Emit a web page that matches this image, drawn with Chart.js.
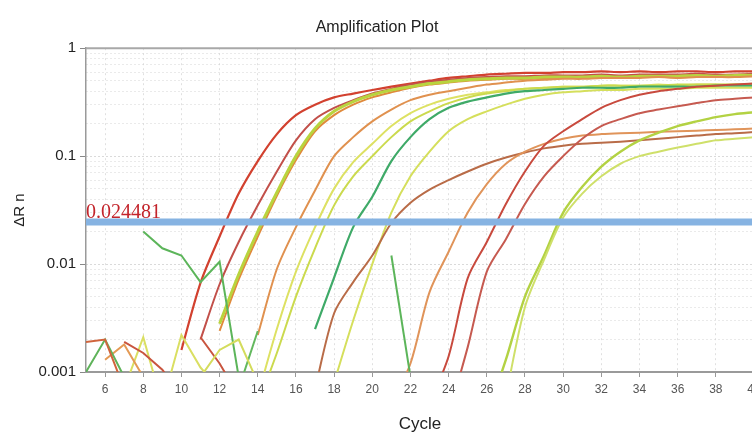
<!DOCTYPE html>
<html>
<head>
<meta charset="utf-8">
<title>Amplification Plot</title>
<script src="https://cdn.jsdelivr.net/npm/chart.js"></script>
<style>
  html, body { margin: 0; padding: 0; overflow: hidden; background: #fff; }
</style>
</head>
<body>
<canvas id="ampChart" width="774" height="440"></canvas>
<script>
// axis ranges and ticks
const xMin = 5, xMax = 40;
const xTicks = [6, 8, 10, 12, 14, 16, 18, 20, 22, 24, 26, 28, 30, 32, 34, 36, 38, 40];
const yMajor = [0.001, 0.01, 0.1, 1];
const threshold = 0.024481;

// delta Rn per cycle, each array starts at the cycle given in makeLine()
const red1     = [0.0016, 0.0067, 0.018, 0.045, 0.09, 0.16, 0.24, 0.3, 0.35, 0.38, 0.41, 0.44, 0.47, 0.5, 0.53, 0.55, 0.57, 0.58, 0.59, 0.59, 0.6, 0.6, 0.61, 0.6, 0.61, 0.6, 0.61, 0.61, 0.6, 0.61, 0.61];
const red2     = [0.002, 0.0065, 0.016, 0.035, 0.072, 0.14, 0.22, 0.28, 0.33, 0.38, 0.42, 0.46, 0.49, 0.51, 0.53, 0.54, 0.55, 0.55, 0.56, 0.56, 0.56, 0.57, 0.56, 0.57, 0.57, 0.57, 0.58, 0.57, 0.57, 0.58];
const thickYG  = [0.0028, 0.008, 0.02, 0.046, 0.1, 0.18, 0.26, 0.32, 0.37, 0.41, 0.44, 0.47, 0.49, 0.51, 0.52, 0.53, 0.53, 0.54, 0.54, 0.54, 0.55, 0.54, 0.55, 0.55, 0.55, 0.56, 0.55, 0.56, 0.56];
const thickOr  = [0.0024, 0.0072, 0.018, 0.043, 0.092, 0.17, 0.24, 0.3, 0.35, 0.39, 0.43, 0.46, 0.48, 0.5, 0.51, 0.52, 0.52, 0.53, 0.53, 0.53, 0.54, 0.53, 0.54, 0.54, 0.54, 0.55, 0.54, 0.55, 0.55];
const orange4  = [0.0022, 0.009, 0.022, 0.048, 0.1, 0.15, 0.21, 0.27, 0.33, 0.37, 0.4, 0.43, 0.46, 0.48, 0.5, 0.51, 0.52, 0.52, 0.53, 0.53, 0.53, 0.54, 0.53, 0.54, 0.54, 0.54, 0.55];
const yellow5  = [0.0006, 0.0025, 0.0085, 0.022, 0.05, 0.088, 0.13, 0.19, 0.25, 0.3, 0.34, 0.37, 0.39, 0.41, 0.42, 0.43, 0.44, 0.44, 0.45, 0.45, 0.45, 0.46, 0.45, 0.46, 0.46, 0.46, 0.47];
const yellow6  = [0.0005, 0.0015, 0.005, 0.014, 0.035, 0.065, 0.1, 0.15, 0.21, 0.26, 0.31, 0.35, 0.38, 0.4, 0.42, 0.43, 0.44, 0.44, 0.45, 0.45, 0.45, 0.45, 0.46, 0.46, 0.46, 0.46, 0.46];
const green7   = [0.0025, 0.0075, 0.022, 0.042, 0.09, 0.15, 0.22, 0.28, 0.32, 0.35, 0.38, 0.4, 0.41, 0.42, 0.43, 0.43, 0.43, 0.44, 0.44, 0.44, 0.44, 0.45, 0.45, 0.45];
const yellow8  = [0.0008, 0.003, 0.01, 0.03, 0.065, 0.11, 0.17, 0.22, 0.26, 0.3, 0.34, 0.37, 0.39, 0.4, 0.41, 0.41, 0.42, 0.42, 0.42, 0.43, 0.43, 0.43, 0.43];
const shallowA = [0.0007, 0.0035, 0.0068, 0.012, 0.024, 0.037, 0.049, 0.06, 0.072, 0.085, 0.097, 0.108, 0.118, 0.125, 0.13, 0.133, 0.136, 0.14, 0.145, 0.15, 0.155, 0.16, 0.163, 0.167];
const lateE    = [0.0005, 0.0012, 0.0055, 0.013, 0.03, 0.055, 0.085, 0.11, 0.13, 0.145, 0.155, 0.16, 0.163, 0.165, 0.168, 0.17, 0.172, 0.175, 0.177, 0.18];
const lateB    = [0.0005, 0.0014, 0.0074, 0.016, 0.036, 0.072, 0.125, 0.17, 0.22, 0.28, 0.33, 0.37, 0.4, 0.42, 0.44, 0.45, 0.46, 0.47];
const lateC    = [0.0004, 0.0017, 0.0085, 0.017, 0.036, 0.065, 0.1, 0.145, 0.19, 0.22, 0.25, 0.27, 0.29, 0.31, 0.33, 0.34, 0.35];
const lateD1   = [0.0004, 0.0013, 0.005, 0.012, 0.03, 0.052, 0.08, 0.11, 0.14, 0.165, 0.19, 0.21, 0.23, 0.245, 0.255];
const lateD2   = [0.0006, 0.004, 0.011, 0.027, 0.045, 0.065, 0.085, 0.1, 0.11, 0.12, 0.13, 0.14, 0.145, 0.15];

// background noise near the bottom
const noiseA = [0.0019, 0.002, 0.0007];
const noiseB = [0.001, 0.002, 0.0009];
const noiseC = [0.0013, 0.0018, 0.0009];
const noiseD = [0.0019, 0.0015, 0.00105, 0.0006];
const noiseE = [0.0007, 0.0021, 0.0005];
const noiseF = [0.0005, 0.0022, 0.0011, 0.0007];
const noiseG = [0.0009, 0.0016, 0.002, 0.0008];
const noiseH = [0.0021, 0.0012, 0.0006];
const noiseI = [0.0007, 0.0024];
const greenEarly = [0.02, 0.014, 0.012, 0.0068, 0.0105, 0.0009];
const greenLate  = [0.012, 0.0009];

const narrow = "'Liberation Sans Narrow', 'Liberation Sans', Arial, sans-serif";

function makeLine(values, startCycle, color, width, tension) {
  return {
    data: values.map((v, i) => ({ x: startCycle + i, y: v })),
    borderColor: color,
    borderWidth: width || 2,
    pointRadius: 0,
    tension: tension === undefined ? 0.3 : tension,
    fill: false,
    order: 2
  };
}

const datasets = [
  makeLine(noiseA, 5, '#d0643c', 2, 0),
  makeLine(noiseB, 5, '#5fb35a', 2, 0),
  makeLine(noiseC, 6, '#e49a55', 2, 0),
  makeLine(noiseD, 7, '#c9553f', 2, 0),
  makeLine(noiseE, 7, '#dadf62', 2, 0),
  makeLine(noiseF, 9, '#dadf62', 2, 0),
  makeLine(noiseG, 11, '#d4dc5c', 2, 0),
  makeLine(noiseH, 11, '#c9553f', 2, 0),
  makeLine(noiseI, 13, '#63b85e', 2, 0),
  makeLine(greenEarly, 8, '#5cb55a', 2, 0),
  makeLine(greenLate, 21, '#5cb55a', 2, 0),
  makeLine(lateD2, 27, '#cfe06a', 2),
  makeLine(lateD1, 26, '#b3d243', 2.4),
  makeLine(lateC, 24, '#c65a50', 2),
  makeLine(lateB, 23, '#c84a3e', 2),
  makeLine(lateE, 21, '#e0945a', 2),
  makeLine(shallowA, 17, '#b96c48', 2),
  makeLine(yellow8, 18, '#d5df5c', 2),
  makeLine(green7, 17, '#3faa68', 2.2),
  makeLine(yellow6, 14, '#cbda4e', 2),
  makeLine(yellow5, 14, '#dde163', 2),
  makeLine(orange4, 14, '#e0914f', 2),
  makeLine(thickYG, 12, '#b9d43e', 3),
  makeLine(thickOr, 12, '#e08a3c', 2),
  makeLine(red2, 11, '#c2504a', 2),
  makeLine(red1, 10, '#d2412f', 2.2),
  {
    data: [{ x: xMin, y: threshold }, { x: xMax, y: threshold }],
    borderColor: '#86b3e2',
    borderWidth: 7,
    pointRadius: 0,
    order: 0
  }
];

// y ticks at every log step, labels only on decades
const yTickValues = [];
yMajor.forEach(m => {
  yTickValues.push(m);
  if (m < 1) [2, 3, 4, 5, 6, 7, 8, 9].forEach(f => yTickValues.push(m * f));
});

const thresholdLabel = {
  id: 'thresholdLabel',
  beforeDatasetsDraw(chart) {
    const { ctx, chartArea, scales } = chart;
    const y = scales.y.getPixelForValue(1);
    ctx.save();
    ctx.strokeStyle = '#a8a8a8';
    ctx.lineWidth = 2;
    ctx.beginPath();
    ctx.moveTo(chartArea.left, y);
    ctx.lineTo(chartArea.right, y);
    ctx.stroke();
    ctx.restore();
  },
  afterDatasetsDraw(chart) {
    const { ctx, scales } = chart;
    ctx.save();
    ctx.font = '20px "Liberation Serif", serif';
    ctx.fillStyle = '#c3242b';
    ctx.fillText(String(threshold), scales.x.getPixelForValue(xMin), scales.y.getPixelForValue(threshold) - 4);
    ctx.restore();
  }
};

new Chart(document.getElementById('ampChart'), {
  type: 'line',
  data: { datasets: datasets },
  plugins: [thresholdLabel],
  options: {
    responsive: false,
    animation: false,
    layout: { padding: { left: 0, right: 20, top: 0, bottom: 0 } },
    plugins: {
      legend: { display: false },
      tooltip: { enabled: false },
      title: {
        display: true,
        text: 'Amplification Plot',
        color: '#222',
        font: { family: narrow, size: 16, weight: 'normal' },
        padding: { top: 18, bottom: 11 }
      }
    },
    scales: {
      x: {
        type: 'linear',
        min: xMin,
        max: xMax,
        afterBuildTicks: s => { s.ticks = xTicks.map(v => ({ value: v })); },
        afterFit: s => { s.height = 68; },
        ticks: { autoSkip: false, maxRotation: 0, color: '#555', padding: 5, font: { family: narrow, size: 12 } },
        grid: { color: '#e0e0e0', tickColor: '#999', tickLength: 5 },
        border: { color: '#9a9a9a', width: 2, dash: [2, 3] },
        title: { display: true, text: 'Cycle', color: '#222', font: { family: narrow, size: 17 }, padding: { top: 0, bottom: 5 } }
      },
      y: {
        type: 'logarithmic',
        min: 0.001,
        max: 1,
        afterBuildTicks: s => { s.ticks = yTickValues.map(v => ({ value: v })); },
        afterFit: s => { s.width = 86; },
        ticks: {
          autoSkip: false,
          color: '#222',
          padding: 4,
          font: { family: narrow, size: 15 },
          callback: v => (yMajor.includes(v) ? String(v) : '')
        },
        grid: {
          color: c => (c.tick && yMajor.includes(c.tick.value) ? '#b5b5b5' : '#d4d4d4'),
          tickColor: c => (c.tick && yMajor.includes(c.tick.value) ? '#888' : 'rgba(0,0,0,0)'),
          tickLength: 6
        },
        border: { color: '#9a9a9a', width: 1.5, dash: [1, 3] },
        title: { display: true, text: 'ΔR n', color: '#222', font: { family: narrow, size: 15 }, padding: { top: 11, bottom: 0 } }
      }
    }
  }
});
</script>
</body>
</html>
